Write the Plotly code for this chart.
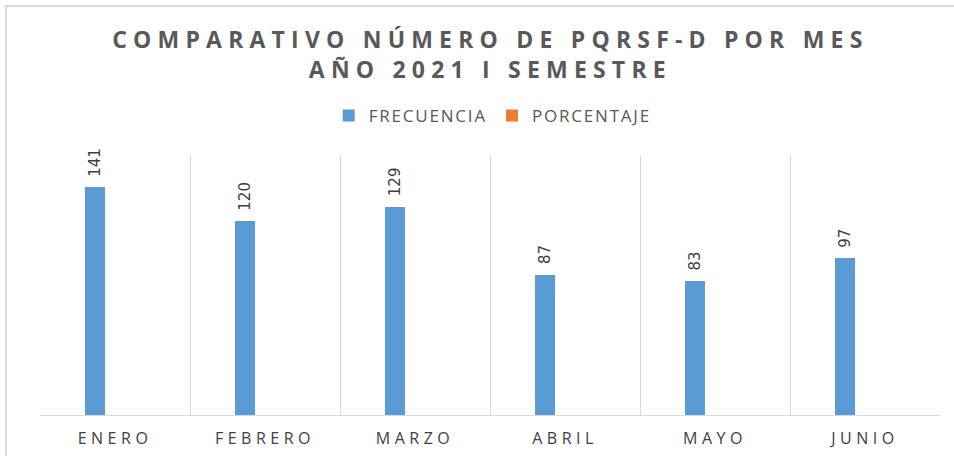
import plotly.graph_objects as go

meses = ["ENERO", "FEBRERO", "MARZO", "ABRIL", "MAYO", "JUNIO"]
frecuencia = [141, 120, 129, 87, 83, 97]
porcentaje = [0, 0, 0, 0, 0, 0]

titulo_l1 = "COMPARATIVO NÚMERO DE PQRSF-D POR MES"
titulo_l2 = "AÑO 2021 I SEMESTRE"


def spaced(s, px):
    return '<span style="letter-spacing:%spx">%s</span>' % (px, s)


fig = go.Figure()
fig.add_trace(go.Bar(
    x=meses, y=frecuencia, name=spaced("FRECUENCIA", 1.8),
    marker=dict(color="#5B9BD5", line=dict(width=0)),
    width=0.1333, offset=-0.2,
    cliponaxis=False,
))
fig.add_trace(go.Bar(
    x=meses, y=porcentaje, name=spaced("PORCENTAJE", 1.8),
    marker=dict(color="#ED7D31", line=dict(width=0)),
    width=0.1333, offset=-0.0667,
))

for m, v in zip(meses, frecuencia):
    fig.add_annotation(
        x=m, y=v, xref="x", yref="y", text=str(v), showarrow=False,
        textangle=-90, xanchor="center", yanchor="bottom", yshift=8, xshift=-20,
        font=dict(family="DejaVu Sans", size=15, color="#404040"),
    )

fig.update_layout(
    width=954, height=456,
    margin=dict(l=40, r=14, t=155, b=41),
    paper_bgcolor="white", plot_bgcolor="white",
    title=dict(text=spaced(titulo_l1, 6.2) + "<br>" + spaced(titulo_l2, 6.2),
               x=0.514, xanchor="center", y=0.895, yanchor="middle",
               font=dict(family="Open Sans", size=23, color="#595959", weight=700)),
    legend=dict(orientation="h", x=0.503, xanchor="center", y=1.15, yanchor="middle",
                font=dict(family="Open Sans", size=17, color="#595959"),
                itemwidth=30, traceorder="normal"),
    bargap=0,
    showlegend=True,
    xaxis=dict(type="category", tickson="boundaries", showgrid=True, gridcolor="#D9D9D9",
               gridwidth=1, showline=True, linecolor="#D9D9D9", linewidth=1, ticks="",
               tickmode="array", tickvals=meses, ticktext=[spaced(m, 4.5) for m in meses],
               tickfont=dict(family="Open Sans", size=16, color="#404040"),
               ticklabelstandoff=9, automargin=False,
               range=[-0.5, 5.5]),
    yaxis=dict(range=[0, 161], visible=False, showgrid=False, zeroline=False,
               automargin=False),
    shapes=[dict(type="rect", xref="paper", yref="paper", x0=-0.0378, x1=1.2, y0=-0.3, y1=1.573,
                 line=dict(color="#D9D9D9", width=2), fillcolor="rgba(0,0,0,0)", layer="below")],
)

fig.write_html("out.html", post_script="document.body.style.margin='0';",
               config={"displayModeBar": False})
